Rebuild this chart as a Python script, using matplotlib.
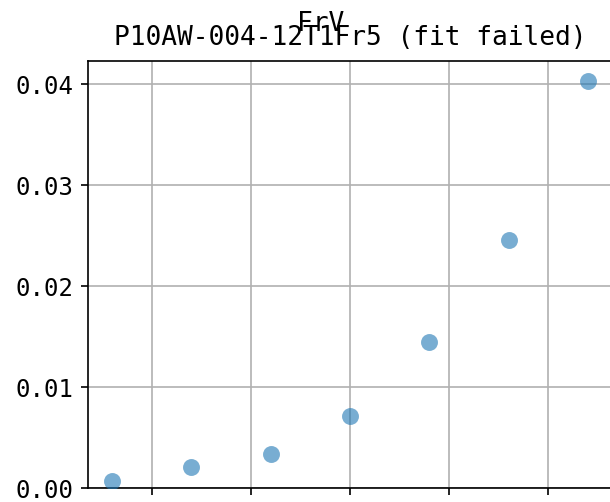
import matplotlib
matplotlib.use("Agg")
import matplotlib.pyplot as plt

# data
x_vals = [8, 12, 16, 20, 24, 28, 32]
frv = [0.00069, 0.00208, 0.00337, 0.00713, 0.01446, 0.02455, 0.0403]
x_ticks = [10, 15, 20, 25, 30]
y_ticks = [0.00, 0.01, 0.02, 0.03, 0.04]

plt.rcParams['font.family'] = ['DejaVu Sans Mono']

fig = plt.figure(figsize=(610 / 150, 502 / 150), dpi=150)
# axes reach past the right and bottom edge (the picture is cropped,
# so the x tick labels end up below the edge)
ax = fig.add_axes([88 / 610, 14 / 502, 524 / 610, 427 / 502])

ax.scatter(x_vals, frv, s=66, color='tab:blue', alpha=0.6, linewidths=0, zorder=3)
ax.set_ylim(bottom=0)
ax.set_xticks(x_ticks)
ax.set_yticks(y_ticks)
ax.set_yticklabels(['%.2f' % v for v in y_ticks])
ax.tick_params(labelsize=11.5)
ax.grid(True)

ax.set_title('P10AW-004-12T1Fr5 (fit failed)', fontsize=12.6, pad=7.5)
fig.suptitle('FrV', x=321 / 610, y=0.978, fontsize=12.6)

fig.savefig('out.png', dpi=150)
